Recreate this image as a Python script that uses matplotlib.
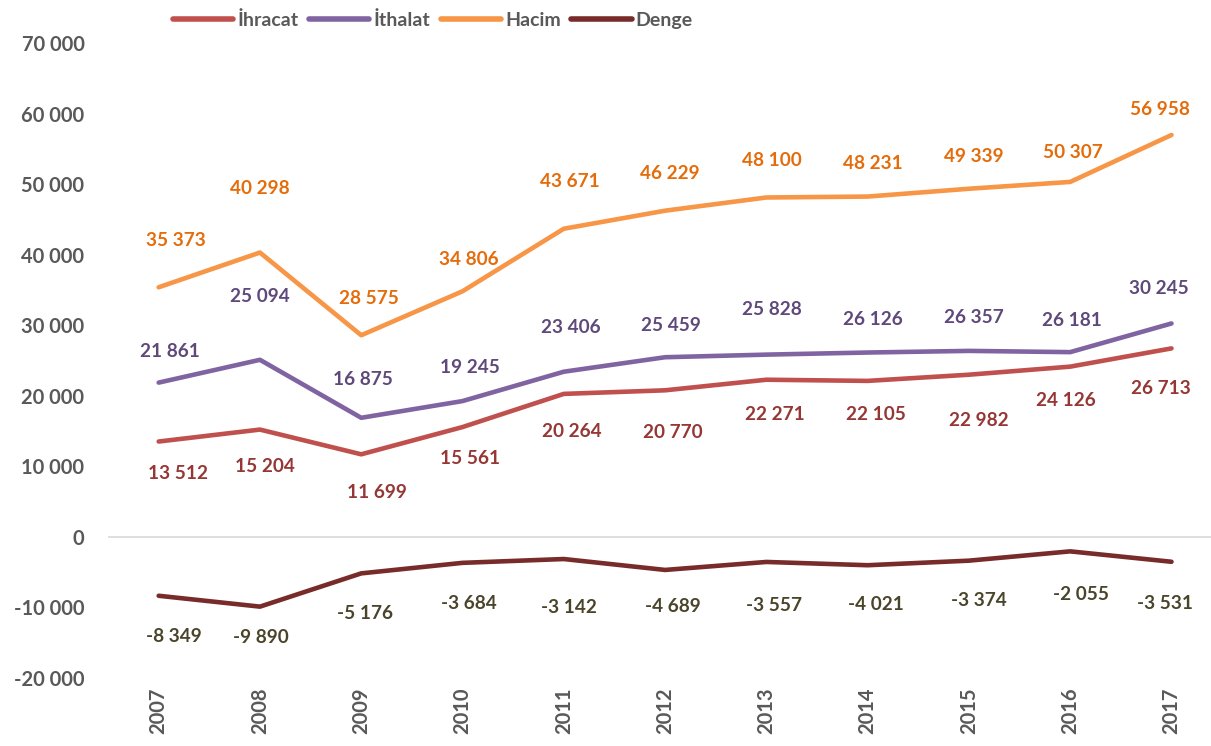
import matplotlib.pyplot as plt

years = ["2007", "2008", "2009", "2010", "2011", "2012", "2013", "2014", "2015", "2016", "2017"]
ihracat = [13512, 15204, 11699, 15561, 20264, 20770, 22271, 22105, 22982, 24126, 26713]
ithalat = [21861, 25094, 16875, 19245, 23406, 25459, 25828, 26126, 26357, 26181, 30245]
hacim = [35373, 40298, 28575, 34806, 43671, 46229, 48100, 48231, 49339, 50307, 56958]
denge = [-8349, -9890, -5176, -3684, -3142, -4689, -3557, -4021, -3374, -2055, -3531]

# label offsets in pixels (dx, dy), roughly as Excel placed them
off_hacim = [(17, 47), (0, 64), (8, 37), (6, 32), (6, 47), (5, 37), (6, 37), (5, 33), (5, 32), (3, 29), (-12, 25)]
off_ithalat = [(11, 31), (0, 63), (2, 38), (7, 34), (7, 44), (6, 32), (6, 45), (5, 33), (5, 33), (2, 32), (-13, 35)]
off_ihracat = [(19, -32), (5, -37), (16, -38), (8, -31), (8, -38), (8, -42), (9, -35), (8, -34), (10, -46), (-4, -34), (-11, -40)]
off_denge = [(15, -41), (1, -31), (4, -40), (6, -41), (5, -48), (8, -37), (8, -44), (8, -39), (10, -40), (11, -43), (-6, -42)]

plt.rcParams["font.family"] = ["Lato", "DejaVu Sans"]
plt.rcParams["font.weight"] = "bold"

fig = plt.figure(figsize=(12.11, 7.46), dpi=100)
ax = fig.add_axes([0.0892, 0.0912, 0.9108, 0.8512])

x = list(range(len(years)))
series = [
    ("İhracat", ihracat, "#C0504D", "#953735", off_ihracat),
    ("İthalat", ithalat, "#8064A2", "#5F497A", off_ithalat),
    ("Hacim", hacim, "#F79646", "#E46C0A", off_hacim),
    ("Denge", denge, "#772C2A", "#4A452A", off_denge),
]

ax.axhline(0, color="#D9D9D9", lw=1.2, zorder=1)

for name, vals, col, lcol, offs in series:
    ax.plot(x, vals, color=col, lw=3.3, label=name, solid_capstyle="round", zorder=3)
    for xi, v, (dx, dy) in zip(x, vals, offs):
        txt = f"{v:,}".replace(",", " ")
        ax.annotate(txt, (xi, v), xytext=(dx, dy), textcoords="offset pixels",
                    ha="center", va="center", fontsize=13.7, fontweight="bold", color=lcol)

ax.set_xlim(-0.5, 10.39)
ax.set_ylim(-20000, 70000)
ax.set_yticks(range(-20000, 70001, 10000))
ax.set_yticklabels([f"{t:,}".replace(",", " ") for t in range(-20000, 70001, 10000)])
ax.set_xticks(x)
ax.set_xticklabels(years, rotation=90)
ax.tick_params(axis="both", length=0, labelsize=14.5, labelcolor="#595959")
ax.tick_params(axis="y", pad=17)
ax.tick_params(axis="x", pad=7)
for s in ax.spines.values():
    s.set_visible(False)

leg = fig.legend(loc="center", bbox_to_anchor=(0.3575, 0.973), ncol=4, frameon=False,
                 fontsize=14, handlelength=3.1, handletextpad=0.2, columnspacing=0.55)
for line in leg.get_lines():
    line.set_linewidth(4)
for t in leg.get_texts():
    t.set_color("#595959")
    t.set_fontweight("bold")

fig.savefig("out.png", dpi=100)
